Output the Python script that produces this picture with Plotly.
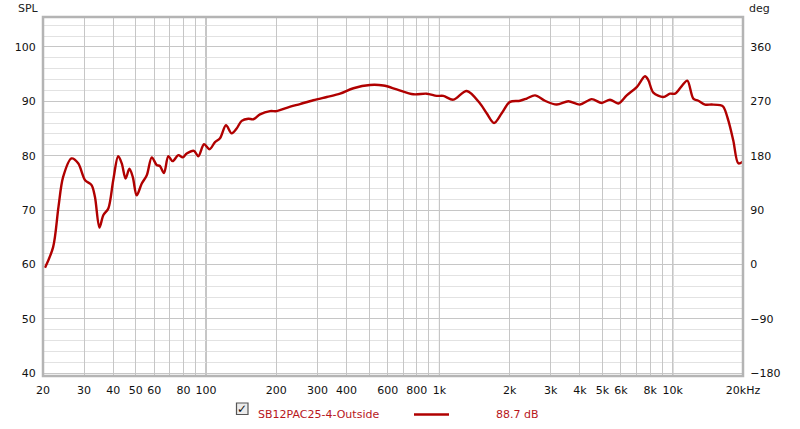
import plotly.graph_objects as go

# ---- data ----
freq_hz = [20.4, 22.1, 23.3, 24.4, 26.5, 28.3, 30.3, 32.3, 33.4, 34.9, 36.3, 38.1,
           40.0, 42.0, 43.5, 45.2, 46.9, 48.5, 50.4, 53.0, 55.7, 58.5, 61.4, 63.4,
           66.0, 68.9, 71.9, 76.0, 79.4, 82.6, 88.7, 92.6, 98.0, 103.5, 109.2, 114.7,
           121.7, 128.7, 135.2, 142.1, 151.7, 159.3, 170.2, 187.9, 200.7, 221.5, 252.6,
           288, 329, 375, 428, 504, 575, 656, 773, 882, 974, 1039, 1147, 1309, 1493,
           1594, 1714, 1849, 2006, 2214, 2366, 2568, 2834, 3182, 3568, 4004, 4494, 4960,
           5383, 5844, 6349, 7008, 7604, 7856, 8254, 9109, 9731, 10224, 10924, 11544,
           12248, 12868, 13746, 14682, 15941, 16472, 17300, 18172, 19096, 19940]
spl_db = [59.4, 63.2, 70.6, 76.1, 79.5, 78.6, 75.5, 74.6, 72.4, 66.8, 69.1, 70.3,
          75.5, 79.9, 78.6, 75.8, 77.6, 76.1, 72.7, 74.9, 76.4, 79.7, 78.3, 78.1,
          76.8, 79.9, 79.0, 80.1, 79.7, 80.4, 80.9, 79.9, 82.1, 81.2, 82.5, 83.2,
          85.6, 84.1, 85.0, 86.4, 86.8, 86.7, 87.6, 88.2, 88.2, 88.8, 89.5,
          90.2, 90.8, 91.4, 92.4, 93.0, 92.9, 92.2, 91.3, 91.4, 91.0, 91.0, 90.3, 91.9, 89.6,
          87.8, 86.0, 87.8, 89.9, 90.1, 90.5, 91.1, 90.1, 89.4, 90.0, 89.4, 90.4, 89.7,
          90.3, 89.6, 91.1, 92.6, 94.6, 93.9, 91.6, 90.8, 91.4, 91.4, 92.8, 93.8,
          90.5, 90.1, 89.4, 89.4, 89.3, 89.0, 86.5, 82.8, 78.6, 78.9]

series_name = "SB12PAC25-4-Outside"
series_value = "88.7 dB"

x_grid = [20, 30, 40, 50, 60, 70, 80, 90, 100, 200, 300, 400, 500, 600, 700, 800, 900,
          1000, 2000, 3000, 4000, 5000, 6000, 7000, 8000, 9000, 10000, 20000]
x_labels = ["20", "30", "40", "50", "60", "", "80", "", "100", "200", "300", "400", "",
            "600", "", "800", "", "1k", "2k", "3k", "4k", "5k", "6k", "", "8k", "", "10k", "20kHz"]
decades = [100, 1000, 10000]
y_ticks = [40, 50, 60, 70, 80, 90, 100]
deg_ticks = [-180, -90, 0, 90, 180, 270, 360]

FONT = "DejaVu Sans"
RED = "#b00000"
TXT_RED = "#b8161c"

fig = go.Figure()
fig.add_trace(go.Scatter(
    x=freq_hz, y=spl_db, mode="lines", name=series_name,
    line=dict(color=RED, width=2.4, shape="spline", smoothing=0.9),
    hoverinfo="x+y", showlegend=False,
))

PH = 359.0
shapes = []
for d in decades:
    shapes.append(dict(type="line", xref="x", yref="paper", x0=d, x1=d, y0=0, y1=1,
                       line=dict(color="#7a7a7a", width=1), layer="between"))
# plot frame
shapes.append(dict(type="rect", xref="paper", yref="paper", x0=0, x1=1, y0=0, y1=1,
                   line=dict(color="#b4b4b4", width=2.5), layer="above"))
# legend sample line
shapes.append(dict(type="line", xref="paper", yref="paper",
                   x0=(414 - 43) / 700, x1=(449 - 43) / 700,
                   y0=-(414.5 - 376) / PH, y1=-(414.5 - 376) / PH,
                   line=dict(color=RED, width=2.5)))
# checkbox
shapes.append(dict(type="rect", xref="paper", yref="paper",
                   x0=(236.5 - 43) / 700, x1=(248 - 43) / 700,
                   y0=-(414.5 - 376) / PH, y1=-(403 - 376) / PH,
                   line=dict(color="#555555", width=1.2), fillcolor="#ececec"))

annotations = [
    dict(text="SPL", xref="paper", yref="paper", x=(28 - 43) / 700, y=1 + (17 - 9) / PH,
         showarrow=False, font=dict(family=FONT, size=11, color="#222"),
         xanchor="center", yanchor="middle"),
    dict(text="deg", xref="paper", yref="paper", x=(759 - 43) / 700, y=1 + (17 - 9) / PH,
         showarrow=False, font=dict(family=FONT, size=11, color="#222"),
         xanchor="center", yanchor="middle"),
    dict(text="<b>✓</b>", xref="paper", yref="paper", x=(242.3 - 43) / 700, y=-(408.7 - 376) / PH,
         showarrow=False, font=dict(family=FONT, size=12, color="#111"),
         xanchor="center", yanchor="middle"),
    dict(text=series_name, xref="paper", yref="paper", x=(256 - 43) / 700,
         y=-(414.5 - 376) / PH, showarrow=False,
         font=dict(family=FONT, size=11, color=TXT_RED), xanchor="left", yanchor="middle"),
    dict(text=series_value, xref="paper", yref="paper", x=(494 - 43) / 700,
         y=-(414.5 - 376) / PH, showarrow=False,
         font=dict(family=FONT, size=11, color=TXT_RED), xanchor="left", yanchor="middle"),
]

fig.update_layout(
    width=800, height=429,
    margin=dict(l=43, r=57, t=17, b=53, autoexpand=False),
    paper_bgcolor="white", plot_bgcolor="white",
    font=dict(family=FONT, size=11, color="#222"),
    shapes=shapes, annotations=annotations,
    xaxis=dict(type="log", range=[1.30103, 4.30103], tickmode="array", automargin=False,
               tickvals=x_grid, ticktext=x_labels, showgrid=True, gridcolor="#c6c6c6",
               gridwidth=1, zeroline=False, showline=False, ticks="outside",
               ticklen=4, tickcolor="rgba(0,0,0,0)", tickfont=dict(size=11, color="#111")),
    yaxis=dict(range=[39.5, 105.5], tickmode="array", tickvals=y_ticks, automargin=False,
               showgrid=True, gridcolor="#c6c6c6", zeroline=False, showline=False,
               ticks="outside", ticklen=4, tickcolor="rgba(0,0,0,0)",
               minor=dict(dtick=2, tick0=0, showgrid=True, gridcolor="#e2e2e2", ticks=""),
               tickfont=dict(size=11, color="#111")),
    yaxis2=dict(range=[-184.5, 409.5], overlaying="y", side="right", tickmode="array",
                tickvals=deg_ticks, showgrid=False, zeroline=False, showline=False,
                automargin=False,
                ticks="outside", ticklen=4, tickcolor="rgba(0,0,0,0)",
                tickfont=dict(size=11, color="#111")),
)
fig.add_trace(go.Scatter(x=[], y=[], yaxis="y2", showlegend=False, hoverinfo="skip"))

fig.write_html("out.html", config={"displayModeBar": False},
               post_script="document.body.style.margin='0';document.body.style.overflow='hidden';")
